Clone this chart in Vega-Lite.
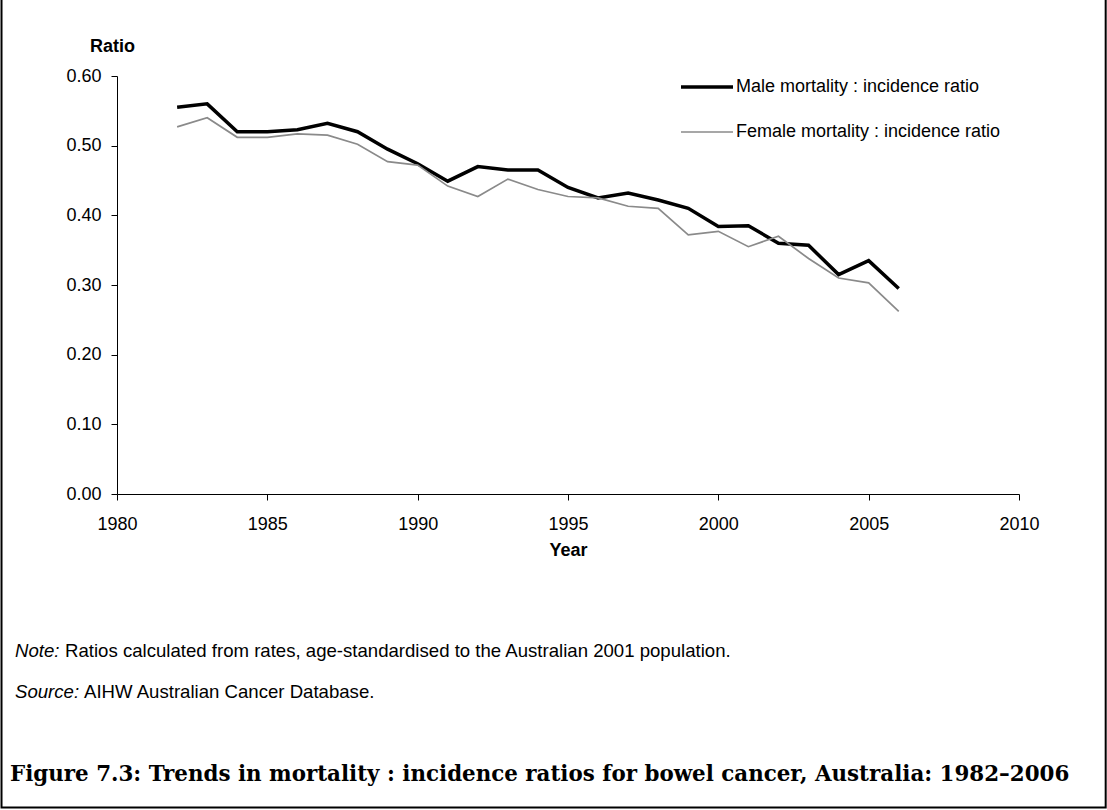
{
  "$schema": "https://vega.github.io/schema/vega-lite/v6.json",
  "width": 902,
  "height": 418,
  "autosize": "none",
  "padding": {"left": 117, "top": 76, "right": 88, "bottom": 316},
  "background": "white",
  "config": {
    "view": {"stroke": null},
    "font": "Liberation Sans",
    "axis": {
      "grid": false,
      "domainColor": "black",
      "domainWidth": 1,
      "tickColor": "black",
      "tickSize": 6,
      "labelColor": "black",
      "titleColor": "black",
      "labelFont": "Liberation Sans",
      "titleFont": "Liberation Sans",
      "labelFontSize": 18,
      "titleFontSize": 18,
      "titleFontWeight": "bold"
    }
  },
  "datasets": {
    "ratios": [
      {"year": 1982, "series": "Male mortality : incidence ratio", "ratio": 0.555},
      {"year": 1983, "series": "Male mortality : incidence ratio", "ratio": 0.560},
      {"year": 1984, "series": "Male mortality : incidence ratio", "ratio": 0.520},
      {"year": 1985, "series": "Male mortality : incidence ratio", "ratio": 0.520},
      {"year": 1986, "series": "Male mortality : incidence ratio", "ratio": 0.523},
      {"year": 1987, "series": "Male mortality : incidence ratio", "ratio": 0.532},
      {"year": 1988, "series": "Male mortality : incidence ratio", "ratio": 0.520},
      {"year": 1989, "series": "Male mortality : incidence ratio", "ratio": 0.495},
      {"year": 1990, "series": "Male mortality : incidence ratio", "ratio": 0.474},
      {"year": 1991, "series": "Male mortality : incidence ratio", "ratio": 0.449},
      {"year": 1992, "series": "Male mortality : incidence ratio", "ratio": 0.470},
      {"year": 1993, "series": "Male mortality : incidence ratio", "ratio": 0.465},
      {"year": 1994, "series": "Male mortality : incidence ratio", "ratio": 0.465},
      {"year": 1995, "series": "Male mortality : incidence ratio", "ratio": 0.440},
      {"year": 1996, "series": "Male mortality : incidence ratio", "ratio": 0.425},
      {"year": 1997, "series": "Male mortality : incidence ratio", "ratio": 0.432},
      {"year": 1998, "series": "Male mortality : incidence ratio", "ratio": 0.422},
      {"year": 1999, "series": "Male mortality : incidence ratio", "ratio": 0.410},
      {"year": 2000, "series": "Male mortality : incidence ratio", "ratio": 0.384},
      {"year": 2001, "series": "Male mortality : incidence ratio", "ratio": 0.385},
      {"year": 2002, "series": "Male mortality : incidence ratio", "ratio": 0.360},
      {"year": 2003, "series": "Male mortality : incidence ratio", "ratio": 0.357},
      {"year": 2004, "series": "Male mortality : incidence ratio", "ratio": 0.315},
      {"year": 2005, "series": "Male mortality : incidence ratio", "ratio": 0.335},
      {"year": 2006, "series": "Male mortality : incidence ratio", "ratio": 0.295},
      {"year": 1982, "series": "Female mortality : incidence ratio", "ratio": 0.527},
      {"year": 1983, "series": "Female mortality : incidence ratio", "ratio": 0.540},
      {"year": 1984, "series": "Female mortality : incidence ratio", "ratio": 0.512},
      {"year": 1985, "series": "Female mortality : incidence ratio", "ratio": 0.512},
      {"year": 1986, "series": "Female mortality : incidence ratio", "ratio": 0.517},
      {"year": 1987, "series": "Female mortality : incidence ratio", "ratio": 0.515},
      {"year": 1988, "series": "Female mortality : incidence ratio", "ratio": 0.502},
      {"year": 1989, "series": "Female mortality : incidence ratio", "ratio": 0.477},
      {"year": 1990, "series": "Female mortality : incidence ratio", "ratio": 0.472},
      {"year": 1991, "series": "Female mortality : incidence ratio", "ratio": 0.442},
      {"year": 1992, "series": "Female mortality : incidence ratio", "ratio": 0.427},
      {"year": 1993, "series": "Female mortality : incidence ratio", "ratio": 0.452},
      {"year": 1994, "series": "Female mortality : incidence ratio", "ratio": 0.437},
      {"year": 1995, "series": "Female mortality : incidence ratio", "ratio": 0.427},
      {"year": 1996, "series": "Female mortality : incidence ratio", "ratio": 0.425},
      {"year": 1997, "series": "Female mortality : incidence ratio", "ratio": 0.413},
      {"year": 1998, "series": "Female mortality : incidence ratio", "ratio": 0.410},
      {"year": 1999, "series": "Female mortality : incidence ratio", "ratio": 0.372},
      {"year": 2000, "series": "Female mortality : incidence ratio", "ratio": 0.377},
      {"year": 2001, "series": "Female mortality : incidence ratio", "ratio": 0.355},
      {"year": 2002, "series": "Female mortality : incidence ratio", "ratio": 0.370},
      {"year": 2003, "series": "Female mortality : incidence ratio", "ratio": 0.338},
      {"year": 2004, "series": "Female mortality : incidence ratio", "ratio": 0.310},
      {"year": 2005, "series": "Female mortality : incidence ratio", "ratio": 0.303},
      {"year": 2006, "series": "Female mortality : incidence ratio", "ratio": 0.262}
    ],
    "frame": [{"x1": 1976.159, "x2": 2012.883, "y1": 0.73, "y2": -0.45}],
    "noteLabel": [{"year": 1976.608, "ratio": -0.234, "text": "Note:"}],
    "noteBody": [{"year": 1976.608, "ratio": -0.234, "text": "Ratios calculated from rates, age-standardised to the Australian 2001 population."}],
    "sourceLabel": [{"year": 1976.608, "ratio": -0.2933, "text": "Source:"}],
    "sourceBody": [{"year": 1976.608, "ratio": -0.2933, "text": "AIHW Australian Cancer Database."}],
    "caption": [{"year": 1976.441, "ratio": -0.412, "text": "Figure 7.3: Trends in mortality : incidence ratios for bowel cancer, Australia: 1982–2006"}]
  },
  "layer": [
    {
      "data": {"name": "frame"},
      "mark": {"type": "rect", "fill": null, "stroke": "black", "strokeWidth": 2, "clip": false},
      "encoding": {
        "x": {"field": "x1", "type": "quantitative", "scale": {"domain": [1980, 2010], "nice": false, "zero": false}},
        "x2": {"field": "x2"},
        "y": {"field": "y1", "type": "quantitative", "scale": {"domain": [0, 0.6], "nice": false}},
        "y2": {"field": "y2"}
      }
    },
    {
      "data": {"name": "ratios"},
      "mark": {"type": "line", "clip": false},
      "encoding": {
        "x": {
          "field": "year", "type": "quantitative",
          "scale": {"domain": [1980, 2010], "nice": false, "zero": false},
          "axis": {"values": [1980, 1985, 1990, 1995, 2000, 2005, 2010], "format": "d", "title": "Year", "labelPadding": 15, "titleY": 56, "titleBaseline": "middle", "labelFlush": false}
        },
        "y": {
          "field": "ratio", "type": "quantitative",
          "scale": {"domain": [0, 0.6], "nice": false},
          "axis": {"values": [0, 0.1, 0.2, 0.3, 0.4, 0.5, 0.6], "format": ".2f", "title": "Ratio", "titleAngle": 0, "titleX": -5, "titleY": -30, "titleAlign": "center", "titleBaseline": "middle", "labelPadding": 10, "labelFlush": false}
        },
        "color": {
          "field": "series", "type": "nominal",
          "scale": {"domain": ["Male mortality : incidence ratio", "Female mortality : incidence ratio"], "range": ["#000000", "#8a8a8a"]},
          "legend": {
            "title": null,
            "orient": "none",
            "legendX": 562,
            "legendY": -17,
            "direction": "vertical",
            "padding": 0,
            "symbolType": "stroke",
            "symbolSize": 2704,
            "symbolStrokeWidth": 3.5,
            "labelFont": "Liberation Sans",
            "labelFontSize": 18,
            "labelColor": "black",
            "labelOffset": 1,
            "rowPadding": 9,
            "labelLimit": 400,
            "encode": {"symbols": {"update": {"strokeWidth": {"signal": "datum.label === 'Male mortality : incidence ratio' ? 3.5 : 1.7"}}}}
          }
        },
        "strokeWidth": {
          "field": "series", "type": "nominal",
          "scale": {"domain": ["Male mortality : incidence ratio", "Female mortality : incidence ratio"], "range": [3.5, 1.7]},
          "legend": null
        }
      }
    },
    {
      "data": {"name": "noteLabel"},
      "mark": {"type": "text", "align": "left", "baseline": "alphabetic", "font": "Liberation Sans", "fontSize": 18.6, "fontStyle": "italic", "color": "black"},
      "encoding": {
        "x": {"field": "year", "type": "quantitative", "scale": {"domain": [1980, 2010], "nice": false, "zero": false}},
        "y": {"field": "ratio", "type": "quantitative", "scale": {"domain": [0, 0.6], "nice": false}},
        "text": {"field": "text"}
      }
    },
    {
      "data": {"name": "noteBody"},
      "mark": {"type": "text", "align": "left", "baseline": "alphabetic", "font": "Liberation Sans", "fontSize": 18.6, "color": "black", "dx": 50},
      "encoding": {
        "x": {"field": "year", "type": "quantitative", "scale": {"domain": [1980, 2010], "nice": false, "zero": false}},
        "y": {"field": "ratio", "type": "quantitative", "scale": {"domain": [0, 0.6], "nice": false}},
        "text": {"field": "text"}
      }
    },
    {
      "data": {"name": "sourceLabel"},
      "mark": {"type": "text", "align": "left", "baseline": "alphabetic", "font": "Liberation Sans", "fontSize": 18.6, "fontStyle": "italic", "color": "black"},
      "encoding": {
        "x": {"field": "year", "type": "quantitative", "scale": {"domain": [1980, 2010], "nice": false, "zero": false}},
        "y": {"field": "ratio", "type": "quantitative", "scale": {"domain": [0, 0.6], "nice": false}},
        "text": {"field": "text"}
      }
    },
    {
      "data": {"name": "sourceBody"},
      "mark": {"type": "text", "align": "left", "baseline": "alphabetic", "font": "Liberation Sans", "fontSize": 18.6, "color": "black", "dx": 69},
      "encoding": {
        "x": {"field": "year", "type": "quantitative", "scale": {"domain": [1980, 2010], "nice": false, "zero": false}},
        "y": {"field": "ratio", "type": "quantitative", "scale": {"domain": [0, 0.6], "nice": false}},
        "text": {"field": "text"}
      }
    },
    {
      "data": {"name": "caption"},
      "mark": {"type": "text", "align": "left", "baseline": "alphabetic", "font": "DejaVu Serif", "fontWeight": "bold", "fontSize": 21.4, "color": "black"},
      "encoding": {
        "x": {"field": "year", "type": "quantitative", "scale": {"domain": [1980, 2010], "nice": false, "zero": false}},
        "y": {"field": "ratio", "type": "quantitative", "scale": {"domain": [0, 0.6], "nice": false}},
        "text": {"field": "text"}
      }
    }
  ]
}
